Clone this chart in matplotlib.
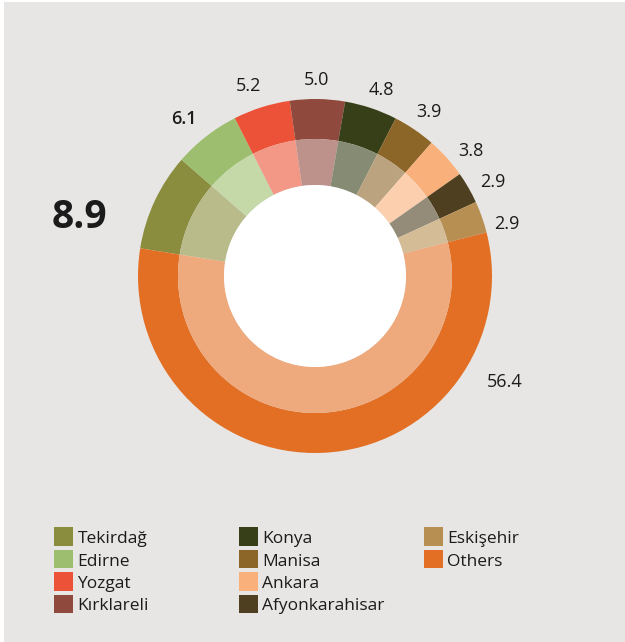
import numpy as np
import matplotlib
matplotlib.use("Agg")
import matplotlib.pyplot as plt
from matplotlib.patches import Rectangle, Circle
from matplotlib.colors import to_rgb

plt.rcParams['font.family'] = ['Open Sans', 'DejaVu Sans']

# Provincial shares (%)
provinces = ["Tekirdağ", "Edirne", "Yozgat", "Kırklareli", "Konya",
             "Manisa", "Ankara", "Afyonkarahisar", "Eskişehir", "Others"]
shares = [8.9, 6.1, 5.2, 5.0, 4.8, 3.9, 3.8, 2.9, 2.9, 56.4]
value_labels = ["8.9", "6.1", "5.2", "5.0", "4.8", "3.9", "3.8", "2.9", "2.9", "56.4"]
colors = ["#8a8d3e", "#9dbe6e", "#eb5237", "#8f4a3d", "#363f18",
          "#8c6528", "#fab07a", "#4d3f20", "#b88f52", "#e26f24"]

# Styling / layout
W, H = 625, 642
BG = "#e7e6e4"
TXT = "#1b1b1b"
START = 171.0
R_OUT, R_MID, R_HOLE = 1.0, 0.774, 0.514


def tint(c, a=0.6):
    r = np.array(to_rgb(c))
    return tuple(a * r + (1 - a) * 1.0)


fig = plt.figure(figsize=(W / 100, H / 100), dpi=100, facecolor="white")
fig.patches.append(Rectangle((4 / W, 0), 1, 640 / H, transform=fig.transFigure,
                             facecolor=BG, edgecolor="none", zorder=-10))

# Pie axes: centre at (315, 276) px, outer radius 177 px
cx, cy, rpx = 315, 276, 177
half = 250
ax = fig.add_axes([(cx - half) / W, (H - cy - half) / H, 2 * half / W, 2 * half / H])
ax.axis("off")

wedges, _ = ax.pie(shares, radius=R_OUT, startangle=START, counterclock=False,
                   colors=colors,
                   wedgeprops=dict(width=R_OUT - R_MID, edgecolor="none", linewidth=0))
ax.pie(shares, radius=R_MID, startangle=START, counterclock=False,
       colors=[tint(c) for c in colors],
       wedgeprops=dict(width=R_MID - R_HOLE, edgecolor="none", linewidth=0))
ax.add_patch(Circle((0, 0), R_HOLE, facecolor="white", edgecolor="none", zorder=5))
ax.set_xlim(-half / rpx, half / rpx)
ax.set_ylim(-half / rpx, half / rpx)

# Value labels around the ring
angle_shift = [11, 2, 1.7, 0.5, -1.3, -0.7, -3.3, -2.1, -4.3, 58.2]
label_r = [1.37, 1.155, 1.14, 1.11, 1.115, 1.13, 1.13, 1.135, 1.12, 1.23]
weights = ["bold", "semibold"] + ["normal"] * 8
sizes = [28, 13] + [13] * 8
for i, w in enumerate(wedges):
    mid = np.deg2rad((w.theta1 + w.theta2) / 2 + angle_shift[i])
    ax.text(label_r[i] * np.cos(mid), label_r[i] * np.sin(mid), value_labels[i],
            ha="center", va="center", fontsize=sizes[i], fontweight=weights[i],
            color=TXT)

# Legend in three columns
col_x = [54, 239, 424]
row_y = [536.5, 559, 581.5, 604]
per_col = [4, 4, 2]
sq = 18.5
idx = 0
for c, n in enumerate(per_col):
    for r in range(n):
        x0, yc = col_x[c], row_y[r]
        fig.patches.append(Rectangle((x0 / W, (H - yc - sq / 2) / H), sq / W, sq / H,
                                     transform=fig.transFigure,
                                     facecolor=colors[idx], edgecolor="none"))
        fig.text((x0 + sq + 5) / W, (H - yc - 6.5) / H, provinces[idx],
                 ha="left", va="baseline", fontsize=12.5, color=TXT)
        idx += 1

fig.savefig("out.png", dpi=100, facecolor=fig.get_facecolor())
